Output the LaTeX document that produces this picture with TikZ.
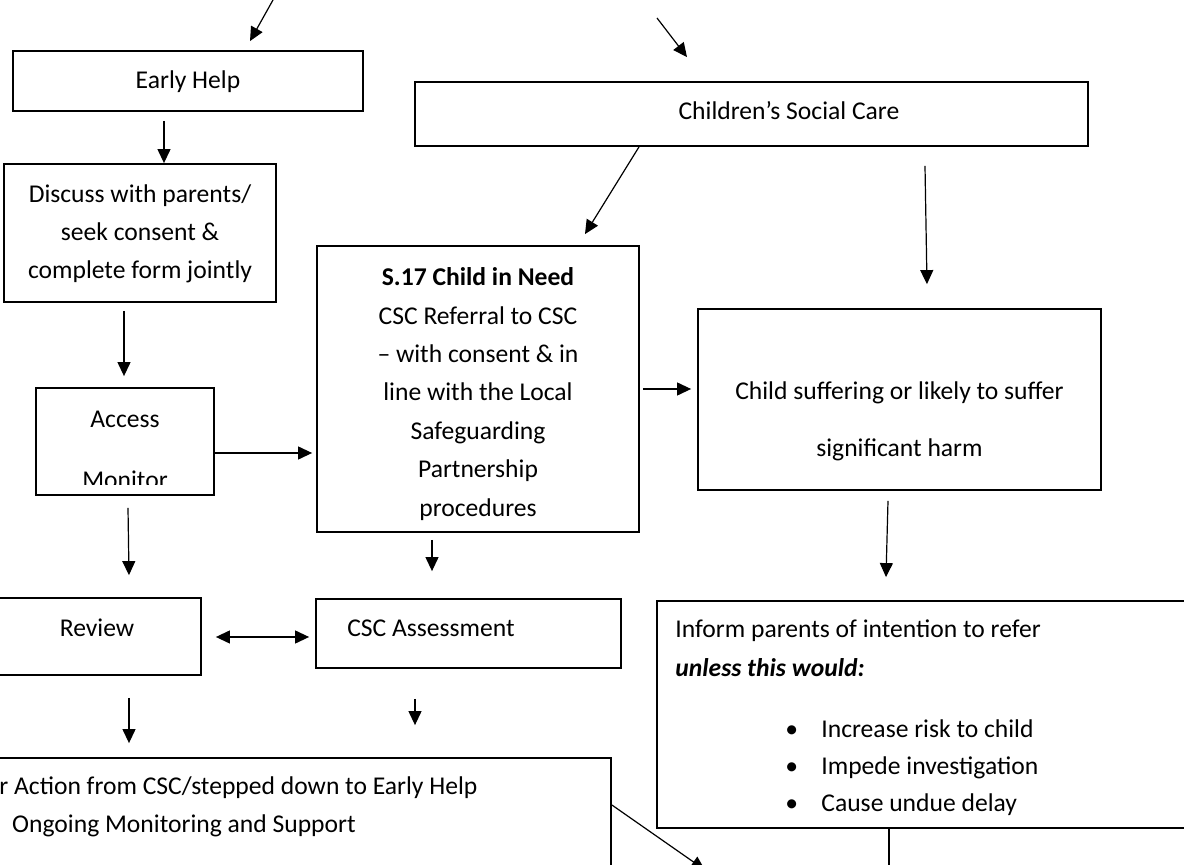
\documentclass[tikz,border=0pt]{standalone}
\usepackage{fontspec}
\setmainfont{Carlito}
\usetikzlibrary{arrows.meta}

\begin{document}
\begin{tikzpicture}[
  x=0.5pt, y=-0.5pt,
  box/.style={draw, line width=0.9pt, rectangle, inner sep=0pt},
  txt/.style={font=\fontsize{12.8}{19}\selectfont, inner sep=0pt, align=center},
  arr/.style={-{Triangle[length=7pt,width=6.5pt]}, line width=0.6pt},
]
\fill[white] (0,0) rectangle (1184,865);
\useasboundingbox (0,0) rectangle (1184,865);
\clip (0,0) rectangle (1184,865);

% boxes
\node[box, minimum width=175pt, minimum height=30pt] (early) at (188,81) {};
\node[box, minimum width=336.5pt, minimum height=32pt] (csc) at (751.5,114) {};
\node[box, minimum width=136pt, minimum height=69pt] (disc) at (140,233) {};
\node[box, minimum width=161pt, minimum height=143pt] (s17) at (478,389) {};
\node[box, minimum width=201.5pt, minimum height=90.5pt] (child) at (899.5,399.5) {};
\node[box, minimum width=89pt, minimum height=53.5pt] (access) at (125,441.5) {};
\node[box, minimum width=104pt, minimum height=38.5pt] (review) at (97,636.5) {};
\node[box, minimum width=152.5pt, minimum height=34.5pt] (assess) at (468.5,633.5) {};
\node[box, minimum width=269pt, minimum height=113.5pt] (inform) at (926,714.5) {};
\node[box, minimum width=315.5pt, minimum height=71pt] (nfa) at (295.5,829) {};

% texts
\node[txt, anchor=base] (earlyt) at (188,89) {Early Help};
\node[txt, anchor=base] (csct) at (789,120) {Children’s Social Care};
\node[txt] (disct) at (140,234) {Discuss with parents/\\seek consent \&\\complete form jointly};
\node[txt, font=\fontsize{12.8}{19.2}\selectfont] (s17t) at (478,394)
  {\textbf{S.17 Child in Need}\\CSC Referral to CSC\\– with consent \& in\\line with the Local\\Safeguarding\\Partnership\\procedures};
\node[txt, font=\fontsize{12.8}{28.5}\selectfont] (childt) at (899.5,421)
  {Child suffering or likely to suffer\\significant harm};
\begin{scope}
  \clip (36,388) rectangle (214,485);
  \node[txt, font=\fontsize{12.8}{30.5}\selectfont] (accesst) at (125,450) {Access\\Monitor};
\end{scope}
\node[txt, anchor=base] (reviewt) at (97,637) {Review};
\node[txt, anchor=base] (assesst) at (431,637) {CSC Assessment};
\node[txt, anchor=base west] (informt) at (675,638) {Inform parents of intention to refer};
\node[txt, anchor=base west] (unlesst) at (675,677) {\textbf{\textit{unless this would:}}};
\foreach \item [count=\i] in {Increase risk to child, Impede investigation, Cause undue delay}
  \node[txt, anchor=base west] (bullet\i) at (785,701+37*\i) {\makebox[18pt][l]{•}\item};
\node[txt, anchor=base west] (nfat) at (-1,795) {r Action from CSC/stepped down to Early Help};
\node[txt, anchor=base] (ongoingt) at (184,833) {Ongoing Monitoring and Support};

% free ends
\coordinate (top1) at (273,0);
\coordinate (top2) at (657,18);
\coordinate (down1) at (705,870);
\coordinate (down2) at (889,870);

% connectors
\draw[arr] (top1) -- ([shift={(62,-9)}]early.north);
\draw[arr] (top2) -- ([shift={(-64.5,-24)}]csc.north);
\draw[arr] ([shift={(-24,9)}]early.south) -- ([shift={(24,0)}]disc.north);
\draw[arr] ([shift={(-112.5,0)}]csc.south) -- ([shift={(107,-11)}]s17.north);
\draw[arr] ([shift={(173.5,19)}]csc.south) -- ([shift={(27.5,-24)}]child.north);
\draw[arr] ([shift={(-16,8)}]disc.south) -- ([shift={(-1,-11)}]access.north);
\draw[arr] ([shift={(0,11.5)}]access.east) -- ([shift={(-4,64)}]s17.west);
\draw[arr] ([shift={(3,0)}]s17.east) -- ([shift={(-6,-10.5)}]child.west);
\draw[arr] ([shift={(3,12)}]access.south) -- ([shift={(32,-22)}]review.north);
\draw[arr] ([shift={(-46,7)}]s17.south) -- ([shift={(-36.5,-27)}]assess.north);
\draw[arr] ([shift={(-11.5,10)}]child.south) -- ([shift={(-40,-23)}]inform.north);
\draw[{Triangle[length=7pt,width=6.5pt]}-{Triangle[length=7pt,width=6.5pt]}, line width=0.6pt]
  ([shift={(14,0.5)}]review.east) -- ([shift={(-6,3.5)}]assess.west);
\draw[arr] ([shift={(32,22)}]review.south) -- ([shift={(-166.5,-14)}]nfa.north);
\draw[arr] ([shift={(-53.5,30)}]assess.south) -- ([shift={(119.5,-32)}]nfa.north);
\draw[arr] ([shift={(0,-24)}]nfa.east) -- (down1);
\draw[line width=0.6pt] ([shift={(-37,0)}]inform.south) -- (down2);
\end{tikzpicture}
\end{document}
